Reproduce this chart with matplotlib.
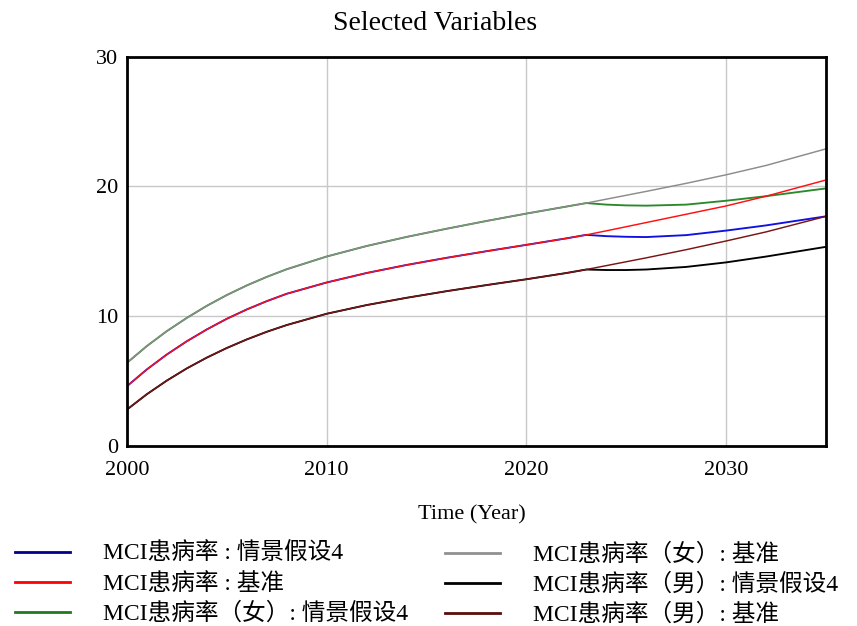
import numpy as np
import matplotlib.pyplot as plt
from matplotlib.lines import Line2D

# years sampled from the chart
years = [2000, 2001, 2002, 2003, 2004, 2005, 2006, 2007, 2008, 2010, 2012, 2014,
         2016, 2018, 2020, 2022, 2023, 2024, 2025, 2026, 2028, 2030, 2032, 2035]

total_base = [4.6, 5.9, 7.05, 8.07, 8.98, 9.8, 10.52, 11.16, 11.73, 12.6, 13.33, 13.95,
              14.5, 15.01, 15.5, 16.0, 16.27, 16.58, 16.9, 17.22, 17.86, 18.5, 19.25, 20.5]
total_s4 = [4.6, 5.9, 7.05, 8.07, 8.98, 9.8, 10.52, 11.16, 11.73, 12.6, 13.33, 13.95,
            14.5, 15.01, 15.5, 16.0, 16.27, 16.17, 16.12, 16.1, 16.25, 16.6, 17.0, 17.7]
female_base = [6.4, 7.7, 8.85, 9.87, 10.8, 11.63, 12.37, 13.03, 13.62, 14.6, 15.41, 16.11,
               16.74, 17.34, 17.91, 18.45, 18.72, 19.02, 19.32, 19.62, 20.24, 20.9, 21.62, 22.9]
female_s4 = [6.4, 7.7, 8.85, 9.87, 10.8, 11.63, 12.37, 13.03, 13.62, 14.6, 15.41, 16.11,
             16.74, 17.34, 17.91, 18.45, 18.72, 18.6, 18.54, 18.52, 18.6, 18.9, 19.25, 19.85]
male_base = [2.8, 3.99, 5.04, 5.98, 6.81, 7.55, 8.21, 8.8, 9.32, 10.19, 10.86, 11.42,
             11.93, 12.4, 12.85, 13.33, 13.6, 13.9, 14.2, 14.5, 15.13, 15.8, 16.5, 17.7]
male_s4 = [2.8, 3.99, 5.04, 5.98, 6.81, 7.55, 8.21, 8.8, 9.32, 10.19, 10.86, 11.42,
           11.93, 12.4, 12.85, 13.33, 13.6, 13.56, 13.56, 13.6, 13.8, 14.15, 14.6, 15.35]

labels = ["MCI患病率 : 情景假设4", "MCI患病率 : 基准", "MCI患病率（女）: 情景假设4",
          "MCI患病率（女）: 基准", "MCI患病率（男）: 情景假设4", "MCI患病率（男）: 基准"]
series = [total_s4, total_base, female_s4, female_base, male_s4, male_base]
colors = ["#1010e0", "#ff1010", "#2a8a2a", "#8c8c8c", "#000000", "#7a1515"]
legend_colors = ["#00008b", "#ff0000", "#1f7a1f", "#909090", "#000000", "#5a0c0c"]

plt.rcParams["font.family"] = ["Liberation Serif", "Noto Sans CJK SC", "DejaVu Sans"]

fig = plt.figure(figsize=(8.57, 6.26), dpi=100)
ax = fig.add_axes([0.148, 0.2875, 0.816, 0.622])

# scenario lines a bit wider underneath, baselines on top
for i in [0, 2, 4]:
    ax.plot(years, series[i], color=colors[i], lw=1.35)
for i in [1, 3, 5]:
    ax.plot(years, series[i], color=colors[i], lw=1.05)

ax.set_xlim(2000, 2035)
ax.set_ylim(0, 30)
ax.set_xticks([2000, 2010, 2020, 2030])
ax.set_yticks([0, 10, 20, 30])
ax.tick_params(length=0, labelsize=16)
ax.tick_params(axis="x", pad=11)
ax.tick_params(axis="y", pad=6)
ax.grid(True, color="#c8c8c8", lw=1)
for s in ax.spines.values():
    s.set_linewidth(2)
    s.set_color("black")

ax.set_xlabel("Time (Year)", fontsize=16, va="center")
ax.xaxis.set_label_coords(0.494, -0.178)
fig.text(0.508, 1 - 24 / 626, "Selected Variables", ha="center", va="center", fontsize=20)

handles = [Line2D([], [], color=c, lw=2) for c in legend_colors]
common = dict(loc="upper left", frameon=False, fontsize=17, handlelength=2.33,
              handletextpad=1.4, labelspacing=0.32, borderpad=0, borderaxespad=0)
fig.legend(handles[:3], labels[:3], bbox_to_anchor=(15 / 857, 0.132), **common)
fig.legend(handles[3:], labels[3:], bbox_to_anchor=(445 / 857, 0.132), **common)

fig.savefig("out.png", dpi=100)
